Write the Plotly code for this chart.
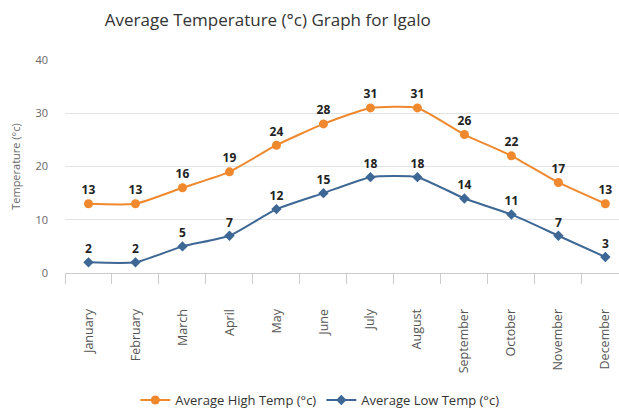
import plotly.graph_objects as go

months = ["January", "February", "March", "April", "May", "June", "July",
          "August", "September", "October", "November", "December"]
high = [13, 13, 16, 19, 24, 28, 31, 31, 26, 22, 17, 13]
low = [2, 2, 5, 7, 12, 15, 18, 18, 14, 11, 7, 3]
y_ticks = [0, 10, 20, 30, 40]

ORANGE = "#F0892E"
BLUE = "#3D6794"
FONT = "Open Sans, DejaVu Sans, sans-serif"

fig = go.Figure()
fig.add_trace(go.Scatter(
    x=months, y=high, name="Average High Temp (°c)",
    mode="lines+markers+text", text=[str(v) for v in high], textposition="top center",
    textfont=dict(family=FONT, size=12, color="#222222", weight="bold"),
    line=dict(color=ORANGE, width=2, shape="spline", smoothing=0.5),
    marker=dict(symbol="circle", size=9, color=ORANGE),
    cliponaxis=False,
))
fig.add_trace(go.Scatter(
    x=months, y=low, name="Average Low Temp (°c)",
    mode="lines+markers+text", text=[str(v) for v in low], textposition="top center",
    textfont=dict(family=FONT, size=12, color="#222222", weight="bold"),
    line=dict(color=BLUE, width=2, shape="spline", smoothing=0.5),
    marker=dict(symbol="diamond", size=8, color=BLUE),
    cliponaxis=False,
))

fig.update_layout(
    width=619, height=408,
    margin=dict(l=65, r=0, t=60, b=135, autoexpand=False),
    paper_bgcolor="white", plot_bgcolor="white",
    font=dict(family=FONT, color="#666666"),
    title=dict(text="Average Temperature (°c) Graph for Igalo",
               x=0.366, xref="paper", xanchor="center",
               y=1 - 20 / 408, yref="container", yanchor="middle",
               font=dict(family=FONT, size=17, color="#333333")),
    showlegend=True,
    legend=dict(orientation="h", x=0.46, xanchor="center", xref="paper",
                y=1 - 400 / 408, yref="container", yanchor="middle",
                font=dict(family=FONT, size=13, color="#333333"),
                itemwidth=30),
    xaxis=dict(
        type="category", range=[-0.5, 11.29], automargin=False,
        tickson="boundaries", ticks="outside", ticklen=10, tickcolor="#cccccc",
        showline=True, linecolor="#cccccc", linewidth=1,
        showgrid=False, tickangle=-90, ticklabelstandoff=30,
        tickfont=dict(family=FONT, size=12.5, color="#555555"),
    ),
    yaxis=dict(
        range=[0, 40], tickvals=y_ticks, showgrid=True, gridcolor="#e3e3e3",
        zeroline=False, showline=False, ticks="", automargin=False,
        ticklabelstandoff=16,
        tickfont=dict(family=FONT, size=11, color="#666666"),
        title=dict(text="Temperature (°c)", font=dict(family=FONT, size=11, color="#666666"),
                   standoff=12),
    ),
)

fig.write_html("out.html", config={"displayModeBar": False},
               post_script="document.body.style.margin='0';document.body.style.overflow='hidden';")
